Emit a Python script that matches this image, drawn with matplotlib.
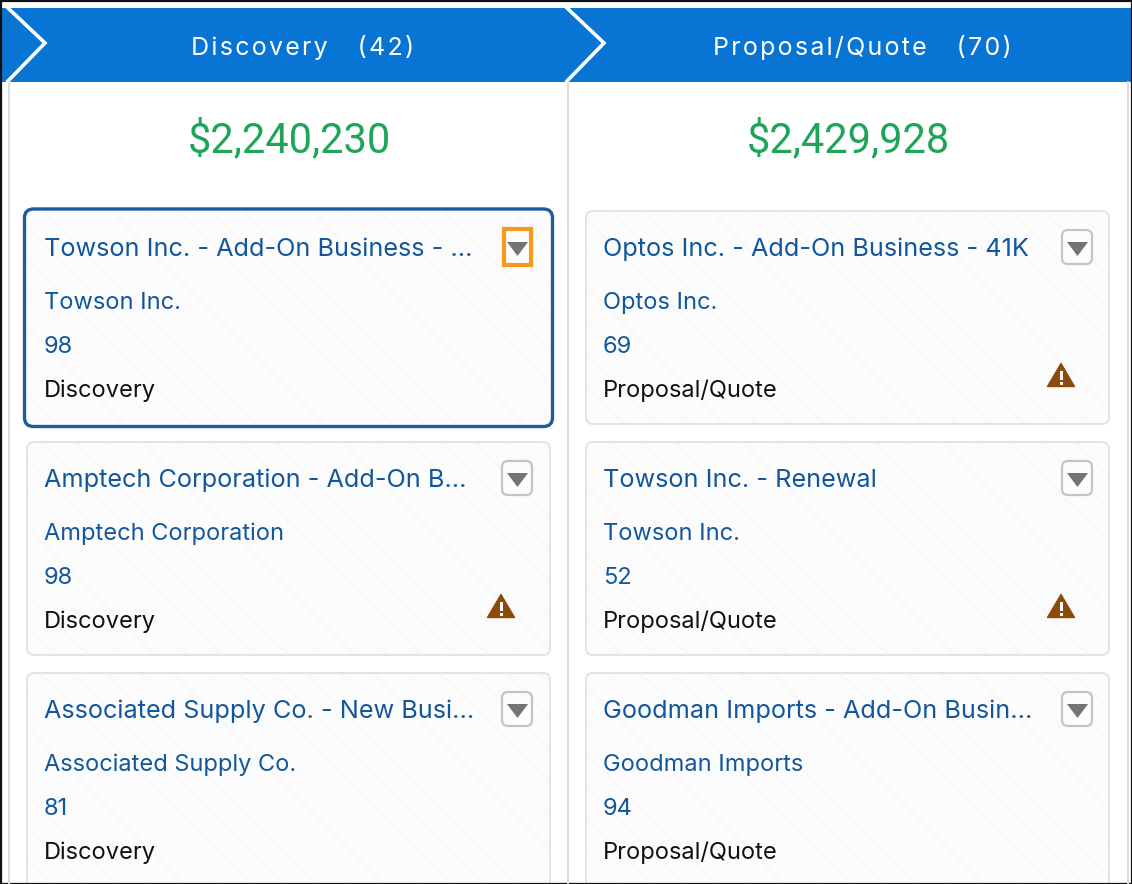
import matplotlib
matplotlib.use("Agg")
import matplotlib.pyplot as plt
from matplotlib.patches import FancyBboxPatch, Polygon, Rectangle

plt.rcParams['font.family'] = ['Inter', 'DejaVu Sans']
plt.rcParams['hatch.linewidth'] = 2.0

# data
stages = ["Discovery   (42)", "Proposal/Quote   (70)"]
totals = ["$2,240,230", "$2,429,928"]
titles = [["Towson Inc. - Add-On Business - ...", "Amptech Corporation - Add-On B...", "Associated Supply Co. - New Busi..."],
          ["Optos Inc. - Add-On Business - 41K", "Towson Inc. - Renewal", "Goodman Imports - Add-On Busin..."]]
accounts = [["Towson Inc.", "Amptech Corporation", "Associated Supply Co."],
            ["Optos Inc.", "Towson Inc.", "Goodman Imports"]]
scores = [["98", "98", "81"], ["69", "52", "94"]]
card_stage = ["Discovery", "Proposal/Quote"]
warnings = [[False, True, False], [True, True, False]]

blue = "#0874d3"
link = "#12579b"
green = "#1fa55a"

fig = plt.figure(figsize=(11.32, 8.84), dpi=100)
ax = fig.add_axes([0, 0, 1, 1])
ax.set_xlim(0, 1132)
ax.set_ylim(884, 0)
ax.axis("off")

col_x = [0, 559]
card_y = [211, 442, 673]
card_h = [213, 213, 235]  # last row runs off the picture

# column dividers and header bar
for xd in [8.5, 567.5, 1127.5]:
    ax.plot([xd, xd], [82, 884], color="#dcdcdc", lw=1.4)
ax.add_patch(Rectangle((1, 8), 1130, 74, color=blue, lw=0))
for x0 in [8, 567]:
    ax.plot([x0, x0 + 37, x0], [8, 43, 81], color="white", lw=2.6, solid_joinstyle="miter")

for c in range(2):
    dx = col_x[c]
    # header letters are spaced out, hair spaces do that
    ax.text(303 if c == 0 else 862, 48, "\u200a".join(stages[c]),
            color="white", fontsize=18, ha="center", va="center")
    ax.text(289 + dx, 140, totals[c], color=green, fontsize=30, ha="center", va="center", family="Roboto")

    for i in range(3):
        y = card_y[i]
        x = 27 + dx
        selected = c == 0 and i == 0
        ax.add_patch(FancyBboxPatch((x, y), 523, card_h[i], boxstyle="round,pad=0,rounding_size=7",
                                    facecolor="#fcfcfc", edgecolor="#f8f8f8", hatch="\\", lw=0))
        if selected:
            ax.add_patch(FancyBboxPatch((x - 2.5, y - 2), 528, 217.5, boxstyle="round,pad=0,rounding_size=9",
                                        facecolor="none", edgecolor="#1f5a9c", lw=2.4))
        else:
            ax.add_patch(FancyBboxPatch((x, y), 523, card_h[i], boxstyle="round,pad=0,rounding_size=7",
                                        facecolor="none", edgecolor="#e3e3e3", lw=1.4))

        tx = 44 + dx
        ax.text(tx, y + 38.5, titles[c][i], color=link, fontsize=18.2, va="center")
        ax.text(tx, y + 92, accounts[c][i], color=link, fontsize=17, va="center")
        ax.text(tx, y + 136, scores[c][i], color=link, fontsize=17, va="center")
        ax.text(tx, y + 180, card_stage[c], color="#111111", fontsize=17, va="center")

        # dropdown button
        bx = 502 + dx + c
        if selected:
            ax.add_patch(Rectangle((504, 229), 27, 36, facecolor="none", edgecolor="#f59a1b", lw=3, joinstyle="miter"))
        else:
            ax.add_patch(FancyBboxPatch((bx, y + 19), 30, 34, boxstyle="round,pad=0,rounding_size=6",
                                        facecolor="#fcfcfc", edgecolor="#c4c4c4", lw=1.6))
        ax.add_patch(Polygon([(bx + 5, y + 31), (bx + 26, y + 31), (bx + 15.5, y + 45)], color="#747474", lw=0))

        # warning icon
        if warnings[c][i]:
            wx = 501 + dx + c
            wy = y + 165
            ax.add_patch(Polygon([(wx - 13.5, wy + 10.5), (wx, wy - 12.5), (wx + 13.5, wy + 10.5)],
                                 facecolor="#8c4b08", edgecolor="#8c4b08", lw=1, joinstyle="round"))
            ax.add_patch(Rectangle((wx - 1.5, wy - 5), 3, 9, color="white", lw=0))
            ax.add_patch(Rectangle((wx - 1.5, wy + 5.5), 3, 3, color="white", lw=0))

# black frame of the screenshot
ax.add_patch(Rectangle((0.5, 0.5), 1131, 883, facecolor="none", edgecolor="#111111", lw=1.6))

fig.savefig("out.png", dpi=100)
